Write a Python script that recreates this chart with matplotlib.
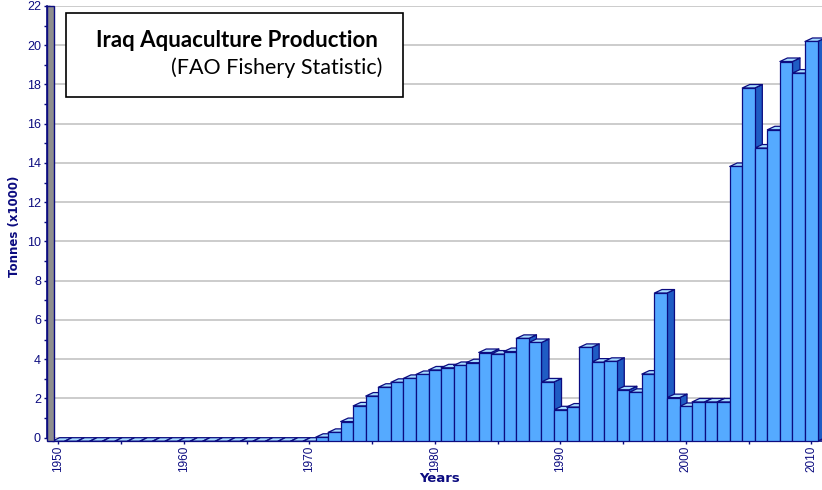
import matplotlib
matplotlib.use("Agg")
import matplotlib.pyplot as plt
from matplotlib.patches import Rectangle
from matplotlib.collections import PolyCollection
from matplotlib.ticker import MultipleLocator

# Iraq aquaculture production, thousand tonnes (FAO)
years = list(range(1950, 2011))
production = [
    0, 0, 0, 0, 0, 0, 0, 0, 0, 0,              # 1950-1959
    0, 0, 0, 0, 0, 0, 0, 0, 0, 0,              # 1960-1969
    0, 0.2, 0.45, 1.0, 1.8, 2.3, 2.75, 3.0, 3.2, 3.4,   # 1970-1979
    3.63, 3.74, 3.86, 4.0, 4.52, 4.44, 4.57, 5.24, 5.03, 3.02,  # 1980-1989
    1.6, 1.74, 4.78, 4.03, 4.07, 2.62, 2.49, 3.42, 7.55, 2.22,  # 1990-1999
    1.77, 2.0, 2.0, 2.0, 14.0, 18.0, 14.94, 15.87, 19.35, 18.76,  # 2000-2009
    20.37,                                      # 2010
]
y_ticks = list(range(0, 23, 2))
x_ticks = list(range(1950, 2011, 10))

title_main = "Iraq Aquaculture Production"
title_sub = "(FAO Fishery Statistic)"
x_label = "Years"
y_label = "Tonnes (x1000)"

NAVY = "#0c0c80"
FRONT = "#55aaff"
SIDE = "#1f5cc4"
TOP = "#a6dcff"
WALL = "#8e8e8e"
GRID = "#c8c8c8"

W, H = 822, 490
fig = plt.figure(figsize=(W / 100, H / 100), dpi=100)
fig.patch.set_facecolor("white")

# plot area in pixels (back plane of the 3D box)
ax_l, ax_r = 54, 822
ax_top, ax_bot = 6, 437.7
ax = fig.add_axes([ax_l / W, (H - ax_bot) / H, (ax_r - ax_l) / W, (ax_bot - ax_top) / H])
ax.set_facecolor("white")

px_per_year = 12.55
x0 = 1950 - (58.3 - ax_l) / px_per_year
ax.set_xlim(x0, x0 + (ax_r - ax_l) / px_per_year)
ax.set_ylim(0, 22)

# depth of the 3D bars, in pixels, converted to data units
DX, DY = 7.5, 3.5
(p0x, p0y), (p1x, p1y) = ax.transData.transform([(0, 0), (1, 1)])
dxd = DX / (p1x - p0x)
dyd = DY / (p1y - p0y)

# grid on the back wall
ax.set_yticks(y_ticks)
ax.yaxis.set_minor_locator(MultipleLocator(1))
ax.set_xticks(x_ticks)
ax.xaxis.set_minor_locator(MultipleLocator(5))
ax.yaxis.grid(True, color=GRID, linewidth=1.3, zorder=0)
ax.set_axisbelow(True)

# side and top faces of each bar
sides, tops = [], []
for x, v in zip(years, production):
    l, r = x - 0.5, x + 0.5
    sides.append([(r, -dyd), (r + dxd, 0), (r + dxd, v), (r, v - dyd)])
    tops.append([(l, v - dyd), (r, v - dyd), (r + dxd, v), (l + dxd, v)])
ax.add_collection(PolyCollection(sides, facecolors=SIDE, edgecolors=NAVY,
                                 linewidths=0.9, zorder=2.5, clip_on=False))
ax.add_collection(PolyCollection(tops, facecolors=TOP, edgecolors=NAVY,
                                 linewidths=0.9, zorder=2.6, clip_on=False))
# front faces
ax.bar(years, production, width=1.0, bottom=-dyd, color=FRONT,
       edgecolor=NAVY, linewidth=0.9, zorder=2.7, clip_on=False)

# spines
for s in ("top", "right"):
    ax.spines[s].set_visible(False)
ax.spines["left"].set_position(("outward", DX * 0.72))
ax.spines["left"].set_color(NAVY)
ax.spines["left"].set_linewidth(1.2)
ax.spines["bottom"].set_position(("outward", DY * 0.72))
ax.spines["bottom"].set_color(NAVY)
ax.spines["bottom"].set_linewidth(1.2)
ax.spines["bottom"].set_zorder(2.4)

# grey side wall
aw, ah = ax_r - ax_l, ax_bot - ax_top
ax.add_patch(Rectangle((-DX / aw, -DY / ah), DX / aw, 1 + DY / ah,
                       transform=ax.transAxes, facecolor=WALL, edgecolor=NAVY,
                       linewidth=1.0, clip_on=False, zorder=3))

ax.tick_params(axis="y", which="both", direction="inout", length=5, width=1,
               color=NAVY, labelcolor=NAVY, labelsize=9, pad=1.5)
ax.tick_params(axis="y", which="minor", length=4.5)
ax.tick_params(axis="x", which="both", direction="inout", length=4, width=1,
               color=NAVY, labelcolor=NAVY, labelsize=8.5, pad=1.5)
for lab in ax.get_yticklabels():
    lab.set_fontfamily("Liberation Sans")
for lab in ax.get_xticklabels():
    lab.set_fontfamily("Liberation Sans")
    lab.set_rotation(90)

fig.text(15 / W, (H - 226.7) / H, y_label, rotation=90, ha="center", va="center",
         color=NAVY, fontsize=8.5, fontweight="bold", family="DejaVu Sans")
fig.text(439.5 / W, (H - 478.5) / H, x_label, ha="center", va="center",
         color=NAVY, fontsize=9.5, fontweight="bold", family="DejaVu Sans")

# title box
bx0, bx1, by0, by1 = 66, 403.3, 12.7, 96.7
fig.add_artist(Rectangle((bx0 / W, (H - by1) / H), (bx1 - bx0) / W, (by1 - by0) / H,
                         transform=fig.transFigure, facecolor="white",
                         edgecolor="black", linewidth=1.2, zorder=5))
fig.text(236.5 / W, (H - 46.7) / H, title_main, ha="center", va="baseline",
         fontsize=16, fontweight="bold", family="Lato", color="black", zorder=6)
fig.text(382 / W, (H - 74) / H, title_sub, ha="right", va="baseline",
         fontsize=15.5, family="Lato", color="black", zorder=6)

fig.savefig("out.png", dpi=100)
